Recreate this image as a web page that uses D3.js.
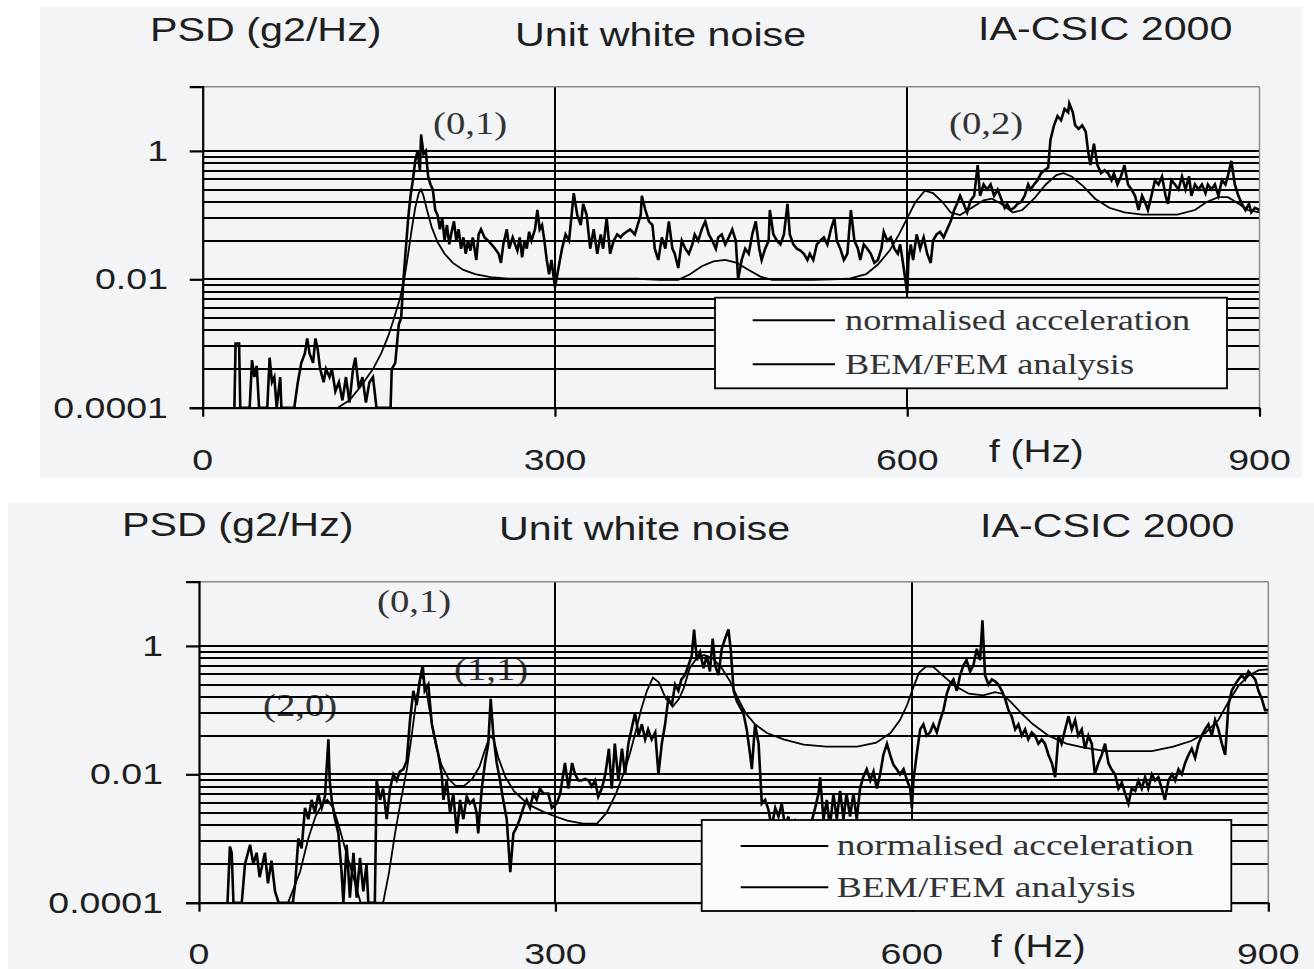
<!DOCTYPE html>
<html lang="en">

<head>
    <meta charset="UTF-8">
    <title>PSD - unit white noise</title>
    <script src="https://d3js.org/d3.v7.min.js"></script>
    <style>
        body {
            margin: 0;
            background: #ffffff;
        }
    </style>
</head>

<body>
<svg id="chart"></svg>

<script>
    const width = 1314;
    const height = 969;

    // ---- data: [frequency Hz, PSD g2/Hz] ----
    const topAccel = [[27,1e-4],[28,0.001],[31,0.001],[32,1e-4],[40,1e-4],[42,0.00055],[44,0.0003],[46,0.00045],[48,1e-4],[55,1e-4],[57,0.0006],[59,0.00025],[61,0.0003],[63,1e-4],[66,0.0003],[67,1e-4],[78,1e-4],[81,0.00025],[84,0.0005],[87,0.0007],[89,0.0012],[91,0.0007],[94,0.0005],[96,0.0012],[98,0.0008],[100,0.0004],[103,0.00025],[105,0.0004],[108,0.0003],[110,0.0004],[113,0.00018],[116,0.00025],[119,0.00013],[122,0.0003],[125,0.00012],[128,0.0004],[130,0.0006],[133,0.0002],[136,0.0003],[139,0.00012],[142,0.00025],[145,0.0003],[148,1e-4],[160,1e-4],[161,0.0004],[164,0.0005],[167,0.002],[169,0.0025],[171,0.01],[173,0.03],[175,0.09],[177,0.2],[179,0.35],[181,0.7],[183,1.0],[185,0.5],[186,1.8],[188,0.9],[190,1.0],[192,0.4],[194,0.3],[196,0.25],[198,0.12],[200,0.1],[202,0.06],[204,0.09],[206,0.04],[208,0.07],[210,0.035],[212,0.055],[214,0.08],[216,0.04],[218,0.06],[220,0.03],[222,0.045],[224,0.025],[226,0.04],[228,0.028],[230,0.045],[233,0.02],[235,0.05],[237,0.06],[240,0.045],[243,0.04],[246,0.035],[249,0.03],[252,0.025],[254,0.018],[256,0.035],[259,0.06],[261,0.03],[264,0.045],[266,0.035],[268,0.028],[270,0.045],[272,0.022],[274,0.04],[276,0.03],[278,0.055],[280,0.04],[283,0.06],[285,0.12],[287,0.06],[289,0.07],[291,0.04],[293,0.02],[295,0.012],[297,0.02],[300,0.0075],[303,0.015],[306,0.03],[309,0.05],[312,0.04],[316,0.22],[319,0.1],[322,0.07],[324,0.15],[327,0.1],[330,0.03],[333,0.06],[336,0.025],[339,0.05],[341,0.03],[344,0.09],[347,0.025],[350,0.04],[353,0.05],[356,0.045],[358,0.05],[361,0.055],[364,0.06],[368,0.05],[373,0.1],[374,0.2],[377,0.12],[380,0.08],[383,0.07],[385,0.03],[388,0.02],[391,0.045],[394,0.03],[397,0.08],[400,0.03],[402,0.025],[405,0.015],[408,0.04],[411,0.03],[414,0.025],[417,0.035],[419,0.05],[422,0.04],[425,0.06],[428,0.08],[431,0.05],[434,0.04],[437,0.03],[439,0.045],[442,0.05],[445,0.035],[448,0.045],[451,0.06],[454,0.04],[456,0.01],[459,0.02],[462,0.03],[465,0.025],[468,0.05],[471,0.08],[474,0.03],[476,0.02],[479,0.03],[482,0.04],[483,0.12],[486,0.05],[489,0.04],[492,0.035],[495,0.05],[498,0.15],[500,0.05],[503,0.035],[506,0.03],[509,0.028],[512,0.025],[515,0.02],[517,0.025],[520,0.02],[523,0.035],[526,0.04],[529,0.045],[532,0.035],[535,0.06],[538,0.09],[540,0.04],[543,0.03],[546,0.02],[549,0.025],[552,0.12],[555,0.04],[558,0.03],[560,0.02],[563,0.035],[566,0.03],[569,0.025],[572,0.018],[575,0.02],[578,0.03],[580,0.055],[583,0.04],[586,0.045],[589,0.03],[592,0.025],[594,0.035],[597,0.015],[600,0.006],[601,0.02],[603,0.035],[605,0.02],[608,0.05],[611,0.03],[614,0.045],[617,0.025],[620,0.018],[622,0.04],[625,0.05],[628,0.055],[631,0.045],[634,0.06],[637,0.08],[640,0.12],[643,0.16],[645,0.2],[648,0.15],[651,0.11],[654,0.17],[657,0.2],[660,0.6],[662,0.2],[665,0.3],[668,0.25],[671,0.3],[674,0.2],[677,0.25],[680,0.18],[683,0.13],[685,0.15],[688,0.12],[691,0.13],[694,0.15],[697,0.16],[700,0.2],[703,0.3],[705,0.25],[708,0.3],[711,0.35],[714,0.45],[717,0.5],[720,0.55],[722,1.5],[725,2.5],[728,3.5],[731,3.0],[734,4.5],[737,4.0],[738,5.5],[741,4.0],[743,2.5],[746,2.2],[749,2.5],[752,2.0],[754,1.0],[756,0.6],[759,1.3],[762,0.6],[765,0.45],[768,0.5],[771,0.45],[774,0.35],[776,0.45],[779,0.3],[782,0.4],[785,0.6],[788,0.3],[791,0.25],[794,0.2],[797,0.12],[800,0.2],[803,0.15],[805,0.12],[808,0.2],[811,0.35],[814,0.3],[817,0.4],[820,0.2],[822,0.15],[825,0.35],[828,0.3],[831,0.25],[834,0.4],[837,0.25],[840,0.4],[842,0.2],[845,0.3],[848,0.25],[851,0.3],[854,0.22],[856,0.3],[859,0.25],[862,0.3],[865,0.2],[868,0.35],[871,0.3],[873,0.4],[876,0.7],[879,0.3],[882,0.2],[885,0.15],[888,0.12],[891,0.15],[893,0.11],[896,0.13],[900,0.12]];

    const topModel = [[115,1e-4],[125,0.00013],[135,0.00022],[145,0.0004],[152,0.0007],[158,0.0013],[163,0.0025],[168,0.005],[172,0.011],[175,0.025],[178,0.06],[181,0.13],[184,0.22],[186,0.25],[188,0.2],[191,0.12],[195,0.065],[200,0.038],[206,0.025],[213,0.018],[222,0.014],[232,0.012],[245,0.0108],[260,0.0102],[300,0.0102],[340,0.0102],[370,0.0102],[390,0.0098],[405,0.0098],[415,0.012],[425,0.016],[435,0.019],[445,0.02],[455,0.018],[465,0.014],[475,0.011],[485,0.0098],[520,0.0098],[550,0.0102],[565,0.012],[575,0.017],[585,0.028],[593,0.05],[600,0.09],[607,0.16],[615,0.24],[622,0.22],[630,0.16],[637,0.11],[645,0.1],[655,0.13],[665,0.17],[672,0.18],[680,0.15],[690,0.11],[698,0.12],[708,0.18],[718,0.3],[727,0.42],[733,0.45],[740,0.4],[750,0.28],[760,0.18],[772,0.13],[785,0.11],[800,0.102],[830,0.102],[845,0.12],[855,0.16],[865,0.19],[873,0.19],[880,0.16],[890,0.12],[900,0.11]];

    const botAccel = [[24,1e-4],[26,0.00075],[27.5,0.0006],[29,1e-4],[36,1e-4],[38.7,0.0004],[43,0.0008],[45.7,0.0004],[48.5,0.0006],[51,0.00025],[55.5,0.0006],[58,0.0002],[61,0.00045],[64,0.00015],[67,1e-4],[79,1e-4],[81,0.0002],[83.6,0.001],[86.4,0.0007],[89.2,0.003],[92,0.002],[94.8,0.004],[97.6,0.0025],[100.4,0.005],[103.3,0.003],[106,0.0045],[108.9,0.035],[110,0.008],[111.7,0.004],[114.5,0.002],[117.3,0.0012],[120,0.0003],[121.5,1e-4],[124.3,0.0008],[127,0.00012],[130,0.0006],[132.7,0.00012],[135.5,0.0005],[138.3,0.00015],[141,0.0004],[142.5,1e-4],[148,1e-4],[149.5,0.008],[152.4,0.004],[155,0.006],[158,0.002],[160.8,0.006],[163.6,0.01],[166.4,0.008],[169,0.011],[172,0.012],[174.8,0.016],[177.6,0.07],[180.4,0.2],[183.2,0.12],[186,0.3],[188.3,0.5],[190,0.2],[193,0.25],[196,0.06],[198.7,0.035],[201.5,0.02],[204.3,0.01],[205.7,0.004],[208.5,0.008],[211.3,0.0025],[214,0.005],[217,0.0012],[219.7,0.004],[222.5,0.002],[225.3,0.0045],[228,0.0035],[231,0.004],[233.7,0.0025],[235,0.0012],[238,0.006],[240.7,0.015],[243.5,0.03],[245.5,0.15],[247.8,0.04],[250.6,0.015],[253.4,0.008],[256,0.004],[259,0.002],[262,0.0003],[264.6,0.0012],[267.4,0.0015],[270,0.002],[273,0.003],[275.8,0.004],[278.6,0.003],[281.4,0.005],[284.2,0.004],[287,0.006],[290,0.005],[294,0.005],[297,0.003],[301,0.0035],[304,0.005],[308,0.015],[311,0.006],[314,0.015],[316.5,0.01],[319.4,0.008],[322,0.008],[325,0.0085],[328,0.008],[330.6,0.0065],[333.4,0.008],[336,0.0045],[339,0.006],[342,0.01],[345,0.025],[347.4,0.006],[350,0.03],[353,0.008],[356,0.025],[358.6,0.01],[361.4,0.03],[364,0.05],[367,0.09],[370,0.04],[372.7,0.06],[375.5,0.035],[378,0.05],[381,0.035],[384,0.045],[386.7,0.01],[389.5,0.03],[392.3,0.06],[395,0.15],[398,0.12],[400.7,0.25],[403.5,0.2],[406,0.3],[409,0.35],[412,0.5],[414.7,0.7],[416.7,1.8],[419,0.6],[421.7,0.8],[424.6,0.45],[427.4,0.7],[430,0.4],[432.4,1.3],[434.4,0.5],[437.2,0.35],[440,0.9],[442.8,1.3],[445.6,1.8],[447.5,0.9],[450,0.2],[452.6,0.14],[455.5,0.11],[458.2,0.09],[461,0.05],[463.9,0.02],[465.3,0.012],[468,0.06],[471,0.03],[473.7,0.0035],[476.5,0.004],[479.3,0.0028],[482,0.0015],[485,0.003],[487.7,0.0022],[490.5,0.0035],[493.3,0.0015],[496,0.0022],[499,0.0012],[501.7,0.0018],[504.5,0.0012],[508.7,0.0011],[514,0.0014],[518.6,0.003],[521.4,0.005],[522.8,0.009],[525.6,0.002],[528.4,0.004],[531,0.0015],[534,0.005],[536.8,0.002],[539.6,0.0055],[542.4,0.002],[545,0.005],[548,0.0022],[550.8,0.005],[553.6,0.002],[556.4,0.006],[559,0.009],[562,0.012],[565,0.008],[567.7,0.011],[570.5,0.006],[573.3,0.01],[576,0.02],[579,0.03],[581.7,0.02],[584.5,0.014],[587.3,0.012],[590,0.01],[593,0.012],[596,0.008],[598.6,0.006],[600,0.003],[601.3,0.008],[604,0.02],[607,0.05],[609.7,0.06],[612.5,0.04],[615.3,0.045],[618,0.06],[621,0.045],[623.8,0.07],[626.6,0.1],[629.4,0.18],[632,0.25],[635,0.3],[637.8,0.2],[640.6,0.35],[643.4,0.5],[646,0.6],[649,0.4],[651.8,0.5],[654.6,0.9],[657.4,0.6],[659.4,2.5],[661.6,0.35],[664.5,0.25],[667.3,0.3],[670,0.28],[672.9,0.25],[675.7,0.2],[678.5,0.15],[681.3,0.1],[684,0.08],[687,0.05],[689.7,0.06],[692.5,0.04],[695.3,0.05],[698,0.035],[700.9,0.045],[703.7,0.04],[706.5,0.03],[709.3,0.035],[712,0.03],[715,0.02],[717.8,0.015],[720.6,0.009],[723.4,0.04],[726,0.03],[729,0.05],[731.8,0.08],[734.6,0.05],[737.4,0.07],[740,0.04],[743,0.05],[745.8,0.025],[748.6,0.04],[751.4,0.03],[754,0.01],[757,0.015],[759.8,0.02],[762.6,0.03],[765.4,0.015],[768,0.012],[771,0.01],[773.9,0.006],[776.7,0.0075],[779.5,0.005],[782.3,0.0035],[785,0.006],[788,0.0055],[790.7,0.008],[793.5,0.006],[796.3,0.009],[799,0.006],[802,0.01],[804.7,0.008],[807.5,0.009],[810.3,0.006],[813,0.004],[816,0.008],[819,0.01],[821.6,0.008],[824.4,0.012],[827.2,0.01],[830,0.015],[832.8,0.02],[835.6,0.025],[838.4,0.018],[841.2,0.03],[844,0.04],[846.8,0.05],[849.6,0.06],[852.4,0.04],[855.2,0.07],[858,0.05],[860.9,0.03],[863.7,0.02],[866.5,0.12],[869.2,0.2],[872,0.25],[874.9,0.3],[877.7,0.35],[880.5,0.3],[883.3,0.4],[886,0.35],[889,0.3],[891.7,0.2],[894.5,0.15],[897.3,0.1],[900,0.1]];

    const botModel = [[75,1e-4],[85,0.0003],[92,0.001],[98,0.0022],[104,0.0035],[108,0.004],[113,0.003],[118,0.0015],[124,0.0006],[130,0.00025],[136,1e-4],[155,1e-4],[160,0.0003],[165,0.0012],[170,0.004],[175,0.012],[179,0.04],[183,0.15],[186,0.3],[188,0.35],[191,0.22],[195,0.08],[199,0.03],[204,0.014],[210,0.0085],[216,0.0066],[223,0.0066],[230,0.0085],[236,0.013],[241,0.025],[245,0.04],[248,0.035],[252,0.018],[258,0.009],[265,0.0055],[277,0.0034],[290,0.0026],[300,0.0022],[310,0.0019],[323,0.0017],[335,0.0017],[343,0.0025],[351,0.005],[358,0.011],[363,0.022],[368,0.05],[372,0.1],[377,0.2],[382,0.32],[387,0.27],[393,0.15],[399,0.115],[404,0.15],[408,0.22],[413,0.45],[419,0.65],[425,0.72],[432,0.65],[440,0.45],[447,0.28],[453,0.16],[460,0.09],[468,0.06],[478,0.044],[492,0.035],[509,0.029],[528,0.027],[554,0.027],[570,0.031],[582,0.044],[590,0.07],[596,0.12],[601,0.22],[606,0.38],[612,0.48],[618,0.47],[625,0.36],[636,0.24],[648,0.18],[660,0.17],[670,0.19],[676,0.18],[684,0.13],[692,0.09],[702,0.06],[715,0.04],[730,0.03],[745,0.026],[763,0.023],[802,0.023],[820,0.027],[835,0.033],[847,0.044],[858,0.07],[866,0.13],[875,0.24],[884,0.35],[892,0.42],[900,0.43]];

    const xTicks = [0, 300, 600, 900];
    const xGrid = [300, 600];
    const yTicks = [1e-4, 1e-2, 1];
    const yTickLabels = ["0.0001", "0.01", "1"];
    // minor lines of the base-100 log axis sit at k^2 times each major
    const minorFactors = [4, 9, 16, 25, 36, 49, 64, 81];
    const legendLabels = ["normalised acceleration", "BEM/FEM analysis"];
    const titles = ["PSD (g2/Hz)", "Unit white noise", "IA-CSIC 2000"];
    const topNotes = [["(0,1)", 433, 134], ["(0,2)", 949, 134]];
    const botNotes = [["(0,1)", 377, 612], ["(1,1)", 454, 680], ["(2,0)", 263, 716]];

    // the figure is a bit wider than normal type, stretch all text a little
    const stretch = 1.25;
    const sans = '"Liberation Sans", Arial, sans-serif';
    const serif = '"Liberation Serif", "Times New Roman", serif';

    const svg = d3.select("#chart")
        .attr("width", width)
        .attr("height", height);

    function addText(g, str, x, y, size, family, anchor) {
        const t = g.append("text")
            .attr("x", x)
            .attr("y", y)
            .attr("font-family", family)
            .attr("font-size", size)
            .attr("fill", "#1e1e1e")
            .attr("text-anchor", anchor || "start")
            .text(str);
        const w = t.node().getComputedTextLength();
        t.attr("textLength", w * stretch).attr("lengthAdjust", "spacingAndGlyphs");
        return t;
    }

    const panels = [
        {
            id: "top", bg: [40, 7, 1262, 471],
            xr: [202.7, 1259.5], yr: [407.7, 86.7],
            accel: topAccel, model: topModel, notes: topNotes,
            titleX: [150, 515, 978], titleY: [41, 46, 40],
            yLabelX: 168, xLabelY: 470, fLabel: [989, 462],
            legend: {x: 715, y: 297.7, w: 512, h: 90.6, l0: 752.7, l1: 835, ly: [320.3, 364.3], tx: 845, ty: [330, 374], size: 29}
        },
        {
            id: "bot", bg: [8, 503, 1306, 466],
            xr: [199, 1268.3], yr: [902.7, 581.7],
            accel: botAccel, model: botModel, notes: botNotes,
            titleX: [122, 499, 980], titleY: [536, 540, 537],
            yLabelX: 163, xLabelY: 964, fLabel: [991, 957],
            legend: {x: 701.7, y: 820, w: 529.6, h: 91, l0: 740.7, l1: 828.3, ly: [846, 887.3], tx: 836.7, ty: [855, 897], size: 30}
        }
    ];

    panels.forEach(function (p) {
        const g = svg.append("g").attr("class", "panel-" + p.id);

        g.append("rect")
            .attr("x", p.bg[0]).attr("y", p.bg[1])
            .attr("width", p.bg[2]).attr("height", p.bg[3])
            .attr("fill", "#f3f4f6");

        const x = d3.scaleLinear().domain([0, 900]).range(p.xr);
        const y = d3.scaleLog().domain([1e-4, 10]).range(p.yr);

        // titles
        titles.forEach(function (t, i) {
            addText(g, t, p.titleX[i], p.titleY[i], 33, sans);
        });

        // mode labels go under the grid, like in the original
        p.notes.forEach(function (n) {
            addText(g, n[0], n[1], n[2], 31, serif).attr("fill", "#333");
        });

        // horizontal grid
        const gridVals = [];
        yTicks.slice(0, 2).forEach(function (m) {
            minorFactors.forEach(function (k) { gridVals.push(m * k); });
        });
        g.append("g").selectAll("line")
            .data(yTicks.concat(gridVals))
            .enter().append("line")
            .attr("x1", p.xr[0]).attr("x2", p.xr[1])
            .attr("y1", d => Math.round(y(d))).attr("y2", d => Math.round(y(d)))
            .attr("stroke", "#000").attr("stroke-width", 2)
            .attr("shape-rendering", "crispEdges");

        // vertical grid
        g.append("g").selectAll("line")
            .data(xGrid)
            .enter().append("line")
            .attr("x1", d => x(d)).attr("x2", d => x(d))
            .attr("y1", p.yr[1]).attr("y2", p.yr[0])
            .attr("stroke", "#000").attr("stroke-width", 2)
            .attr("shape-rendering", "crispEdges");

        // plot box: light top and right edges, dark axes
        g.append("line")
            .attr("x1", p.xr[0]).attr("x2", p.xr[1])
            .attr("y1", p.yr[1]).attr("y2", p.yr[1])
            .attr("stroke", "#8a8a8a").attr("stroke-width", 1.5);
        g.append("line")
            .attr("x1", p.xr[1]).attr("x2", p.xr[1])
            .attr("y1", p.yr[1]).attr("y2", p.yr[0])
            .attr("stroke", "#8a8a8a").attr("stroke-width", 1.5);

        const yAxis = d3.axisLeft(y).tickValues(yTicks).tickSize(13).tickFormat("");
        g.append("g")
            .attr("transform", `translate(${p.xr[0]},0)`)
            .call(yAxis)
            .call(a => a.selectAll("path, line").attr("stroke", "#000").attr("stroke-width", 2.2));

        const xAxis = d3.axisBottom(x).tickValues(xTicks).tickSize(9).tickSizeOuter(0).tickFormat("");
        g.append("g")
            .attr("transform", `translate(0,${p.yr[0]})`)
            .call(xAxis)
            .call(a => a.selectAll("path, line").attr("stroke", "#000").attr("stroke-width", 2.2));

        // tick labels
        yTicks.forEach(function (v, i) {
            addText(g, yTickLabels[i], p.yLabelX, y(v) + 10, 30, sans, "end");
        });
        xTicks.forEach(function (v) {
            addText(g, String(v), x(v), p.xLabelY, 30, sans, "middle");
        });
        addText(g, "f (Hz)", p.fLabel[0], p.fLabel[1], 31, sans);

        // curves
        const clipId = "clip-" + p.id;
        g.append("clipPath").attr("id", clipId)
            .append("rect")
            .attr("x", p.xr[0]).attr("y", p.yr[1] - 2)
            .attr("width", p.xr[1] - p.xr[0]).attr("height", p.yr[0] - p.yr[1] + 2);

        const line = d3.line()
            .x(d => x(d[0]))
            .y(d => y(Math.max(1e-4, d[1])));

        g.append("path")
            .datum(p.model)
            .attr("clip-path", `url(#${clipId})`)
            .attr("d", line)
            .attr("fill", "none")
            .attr("stroke", "#000")
            .attr("stroke-width", 1.8);

        g.append("path")
            .datum(p.accel)
            .attr("clip-path", `url(#${clipId})`)
            .attr("d", line)
            .attr("fill", "none")
            .attr("stroke", "#000")
            .attr("stroke-width", 2.6)
            .attr("stroke-linejoin", "miter");

        // legend
        const L = p.legend;
        const lg = g.append("g").attr("class", "legend");
        lg.append("rect")
            .attr("x", L.x).attr("y", L.y)
            .attr("width", L.w).attr("height", L.h)
            .attr("fill", "#fafbfc")
            .attr("stroke", "#000").attr("stroke-width", 1.8);
        legendLabels.forEach(function (lab, i) {
            lg.append("line")
                .attr("x1", L.l0).attr("x2", L.l1)
                .attr("y1", L.ly[i]).attr("y2", L.ly[i])
                .attr("stroke", "#000").attr("stroke-width", 2);
            addText(lg, lab, L.tx, L.ty[i], L.size, serif).attr("fill", "#333");
        });
    });
</script>
</body>

</html>
